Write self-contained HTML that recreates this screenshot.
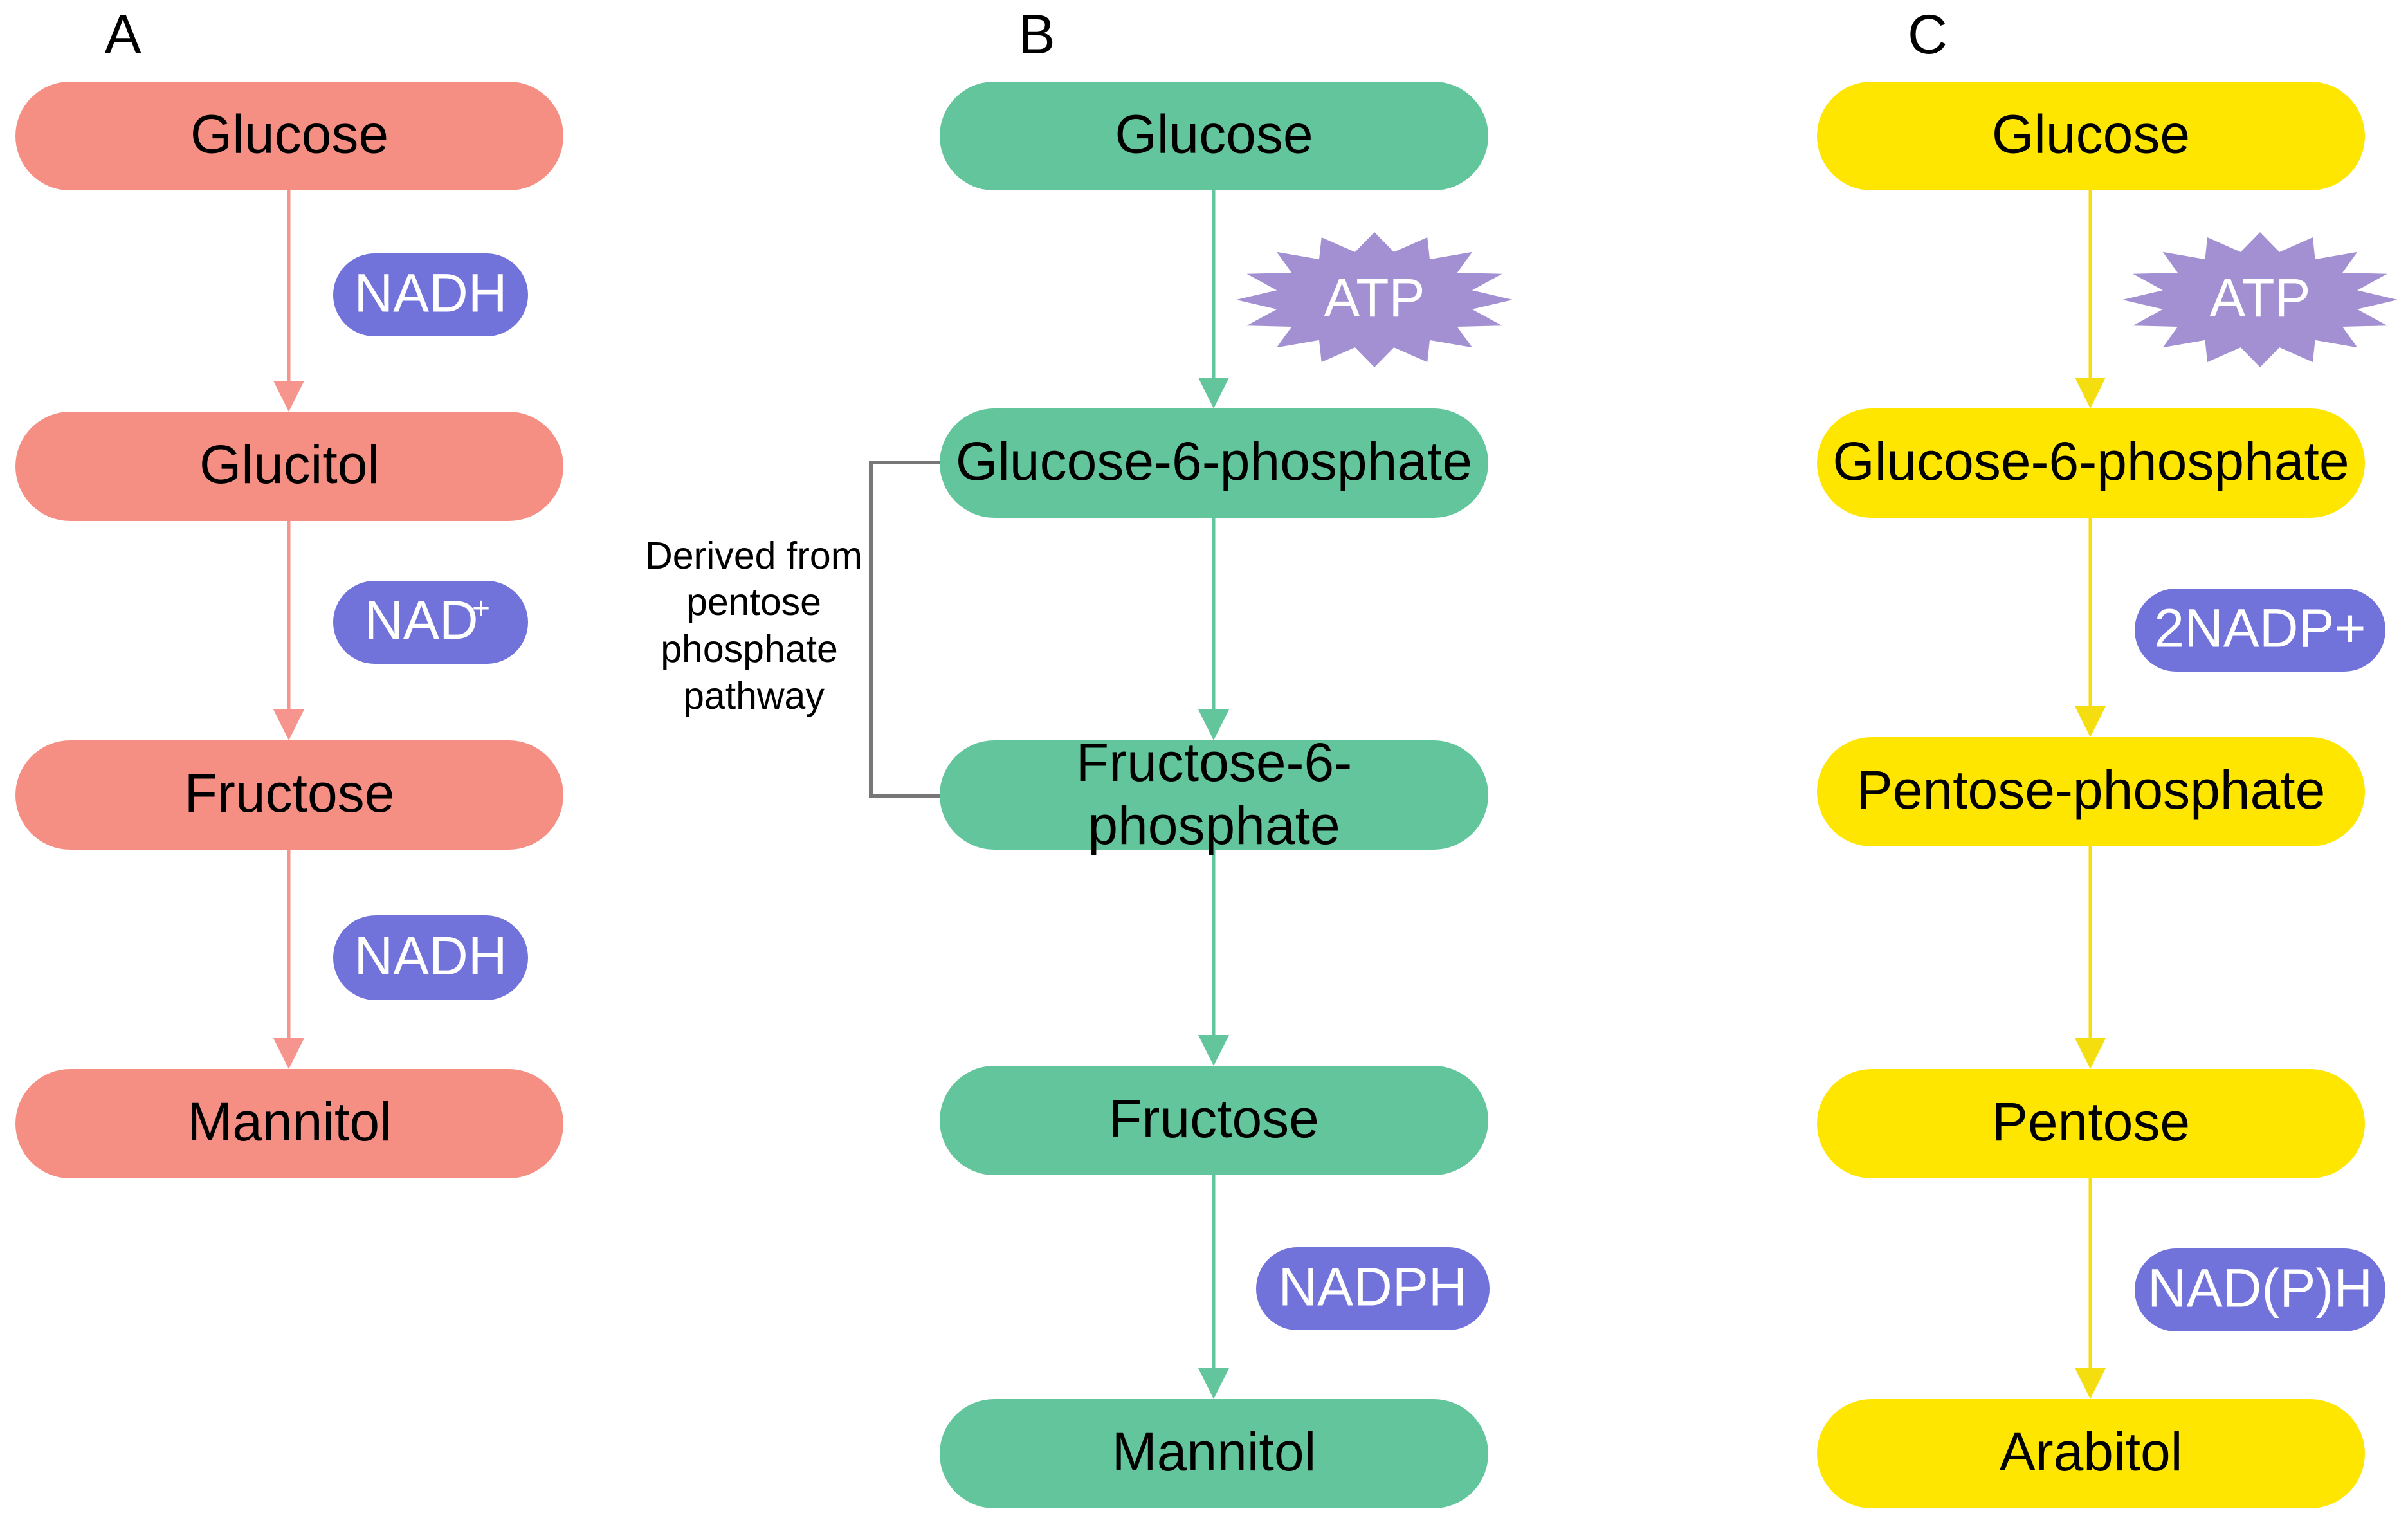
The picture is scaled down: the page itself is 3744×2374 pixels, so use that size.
<!DOCTYPE html>
<html><head><meta charset="utf-8"><style>
html,body{margin:0;padding:0;background:#fff;}
svg{display:block;}
text{font-family:"Liberation Sans",Arial,sans-serif;}
</style></head><body>
<svg id="s" width="3744" height="2374" viewBox="0 0 3744 2374" xmlns="http://www.w3.org/2000/svg">
<rect width="3744" height="2374" fill="#fff"/>
<g font-size="86" fill="#000">
<text x="191" y="83" text-anchor="middle">A</text>
<text x="1612" y="83" text-anchor="middle">B</text>
<text x="2997" y="83" text-anchor="middle">C</text>
</g>
<!-- bracket -->
<polyline points="1461,719 1354,719 1354,1237 1461,1237" fill="none" stroke="#777" stroke-width="6"/>
<g font-size="59" text-anchor="middle" fill="#000">
<text x="1172" y="884">Derived from</text>
<text x="1172" y="956">pentose</text>
<text x="1165" y="1029">phosphate</text>
<text x="1172" y="1102">pathway</text>
</g>
<g id="dyn"></g>
</svg>
<script>
const NS="http://www.w3.org/2000/svg",g=document.getElementById('dyn');
const FS=84,DY=26;
function el(t,a,txt){const e=document.createElementNS(NS,t);for(const k in a)e.setAttribute(k,a[k]);if(txt!=null)e.textContent=txt;g.appendChild(e);return e;}
function box(x1,x2,y1,y2,fill,label){const h=y2-y1;el('rect',{x:x1,y:y1,width:x2-x1,height:h,rx:h/2,ry:h/2,fill});
 if(Array.isArray(label)){el('text',{x:(x1+x2)/2,y:(y1+y2)/2-22,'font-size':FS,'text-anchor':'middle'},label[0]);el('text',{x:(x1+x2)/2,y:(y1+y2)/2+76,'font-size':FS,'text-anchor':'middle'},label[1]);}
 else el('text',{x:(x1+x2)/2,y:(y1+y2)/2+DY,'font-size':FS,'text-anchor':'middle'},label);}
function pill(x1,x2,y1,y2,label){const h=y2-y1;el('rect',{x:x1,y:y1,width:x2-x1,height:h,rx:h/2,ry:h/2,fill:'#7173DB'});
 el('text',{x:(x1+x2)/2,y:(y1+y2)/2+DY,'font-size':FS,'text-anchor':'middle',fill:'#fff'},label);}
function arrow(x,y1,y2,c){el('line',{x1:x,y1:y1,x2:x,y2:y2-40,stroke:c,'stroke-width':5});el('polygon',{points:`${x-24},${y2-48} ${x+24},${y2-48} ${x},${y2}`,fill:c});}
function star(cx,cy,rx,ry,label){let n=16,p=[];for(let i=0;i<2*n;i++){const a=Math.PI*i/n-Math.PI/2,r=i%2?0.72:1;p.push((cx+rx*r*Math.cos(a)).toFixed(1)+','+(cy+ry*r*Math.sin(a)).toFixed(1));}
 el('polygon',{points:p.join(' '),fill:'#A390D2'});el('text',{x:cx,y:cy+DY,'font-size':FS,'text-anchor':'middle',fill:'#fff'},label);}
// A
const cA='#F58F83',aA='#F5958D',xA=449;
const A=[[127,296,'Glucose'],[640,810,'Glucitol'],[1151,1321,'Fructose'],[1662,1832,'Mannitol']];
A.forEach((b,i)=>{if(i<A.length-1)arrow(xA,b[1],A[i+1][0],aA);});
A.forEach(b=>box(24,876,b[0],b[1],cA,b[2]));
pill(518,821,394,523,'NADH');
pill(518,821,903,1032,'');
el('text',{x:655,y:993,'font-size':FS,'text-anchor':'middle',fill:'#fff'},'NAD');
el('text',{x:748,y:962,'font-size':48,'text-anchor':'middle',fill:'#fff'},'+');
pill(518,821,1423,1555,'NADH');
// B
const cB='#63C59C',xB=1887;
const B=[[127,296,'Glucose'],[635,805,'Glucose-6-phosphate'],[1151,1321,['Fructose-6-','phosphate']],[1657,1827,'Fructose'],[2175,2345,'Mannitol']];
B.forEach((b,i)=>{if(i<B.length-1)arrow(xB,b[1],B[i+1][0],cB);});
B.forEach(b=>box(1461,2314,b[0],b[1],cB,b[2]));
star(2137,466,215,105,'ATP');
pill(1953,2316,1939,2068,'NADPH');
// C
const cC='#FFE600',aC='#F5DE10',xC=3250;
const C=[[127,296,'Glucose'],[635,805,'Glucose-6-phosphate'],[1146,1316,'Pentose-phosphate'],[1662,1832,'Pentose'],[2175,2345,'Arabitol']];
C.forEach((b,i)=>{if(i<C.length-1)arrow(xC,b[1],C[i+1][0],aC);});
C.forEach(b=>box(2825,3677,b[0],b[1],cC,b[2]));
star(3514,466,214,105,'ATP');
pill(3319,3709,915,1044,'2NADP+');
pill(3319,3709,1941,2070,'NAD(P)H');
</script>
</body></html>
